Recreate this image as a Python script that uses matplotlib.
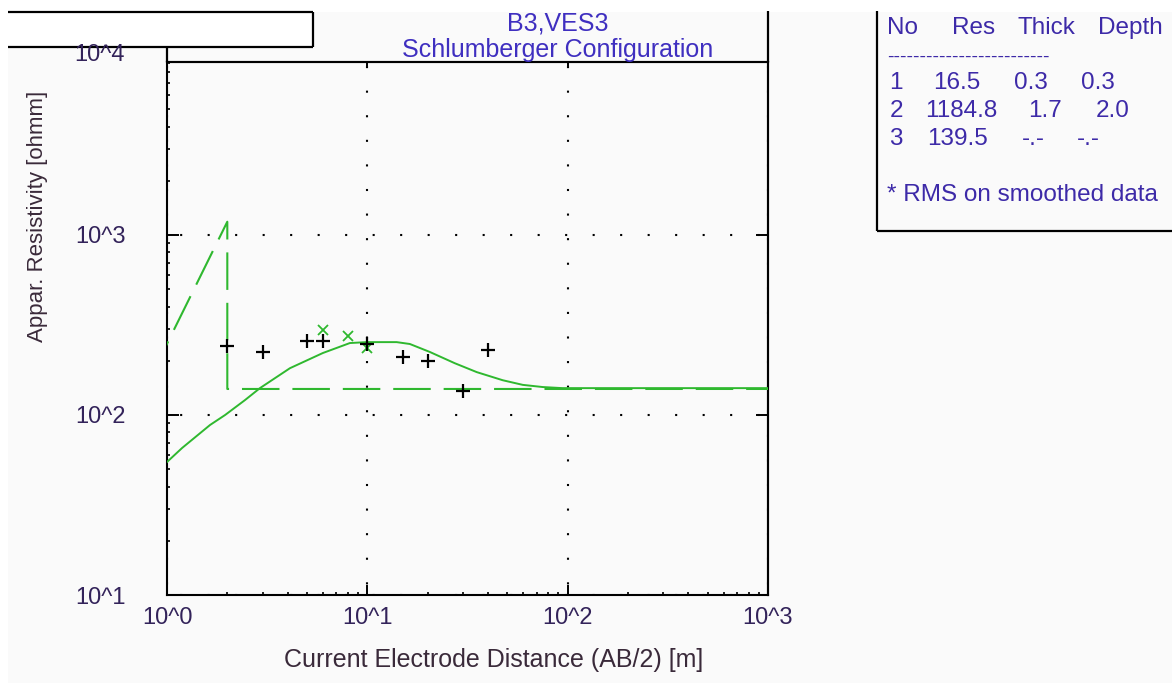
import matplotlib
matplotlib.use('Agg')
import matplotlib.pyplot as plt
from matplotlib.patches import Rectangle
from matplotlib.lines import Line2D
from matplotlib.ticker import LogLocator, NullFormatter, NullLocator, FixedLocator

plt.rcParams['font.family'] = ['Liberation Sans', 'DejaVu Sans']

# ---------------- data ----------------
# layered model (table)
layer_no = [1, 2, 3]
layer_res = [16.5, 1184.8, 139.5]
layer_thick = ['0.3', '1.7', '-.-']
layer_depth = ['0.3', '2.0', '-.-']
depth_vals = [0.3, 2.0]

# field measurements (+)
ab2_field = [2, 3, 5, 6, 10, 15, 20, 30, 40]
rho_field = [242, 224, 258, 258, 248, 210, 200, 136, 230]

# smoothed data (x)
ab2_smooth = [6, 8, 10]
rho_smooth = [297, 275, 235]

# calculated sounding curve
ab2_calc = [1.0, 1.19, 1.64, 1.95, 2.45, 2.91, 4.11, 6.0, 8.18, 9.94, 14.0,
            16.3, 20.5, 27.3, 35.2, 47.4, 59.7, 75.0, 94.4, 1000]
rho_calc = [54.8, 65.6, 88, 100, 121, 141, 182, 221, 251, 254, 254,
            248, 224, 194, 173, 156, 147, 143, 141, 141]

x_ticks = [1, 10, 100, 1000]
x_ticklabels = ['10^0', '10^1', '10^2', '10^3']
y_ticks = [10, 100, 1000]
y_ticklabels = ['10^1', '10^2', '10^3']

title_lines = ['B3,VES3', 'Schlumberger Configuration']
xlabel = 'Current Electrode Distance (AB/2) [m]'
ylabel = 'Appar. Resistivity [ohmm]'

# ---------------- figure ----------------
W, H = 1172, 691
fig = plt.figure(figsize=(W / 100, H / 100), dpi=100, facecolor='white')


def fx(px):
    return px / W


def fy(py):
    return 1 - py / H


GREEN = '#2fb82f'
TXT_T = '#3f2fc0'
TICK_C = '#33235a'
LAB_C = '#3a2a3a'

# background panel
fig.add_artist(Rectangle((fx(8), fy(683)), fx(1172) - fx(8), fy(12) - fy(683),
                         transform=fig.transFigure, facecolor='#fafafa',
                         edgecolor='none', zorder=-10))

ax = fig.add_axes([fx(167), fy(595), fx(768) - fx(167), fy(62) - fy(595)])
ax.set_facecolor('none')
ax.set_xscale('log')
ax.set_yscale('log')
ax.set_xlim(1, 1000)
ax.set_ylim(10, 10 ** 3.961)

for s in ax.spines.values():
    s.set_linewidth(1.5)
    s.set_color('black')

# dotted grid
ax.xaxis.grid(True, which='major', color='black', linewidth=1.5,
              linestyle=(6.7, (1, 10.8)))
ax.yaxis.grid(True, which='major', color='black', linewidth=1.5,
              linestyle=(6.9, (1, 12.2)))
ax.set_axisbelow(True)

# model curve (dashed)
model_x = [depth_vals[0], depth_vals[1], depth_vals[1], 1000]
model_y = [layer_res[0], layer_res[1], layer_res[2], layer_res[2]]
ax.plot(model_x, model_y, color=GREEN, linewidth=1.5,
        linestyle=(0, (18, 6.2)), zorder=3)

# calculated curve
ax.plot(ab2_calc, rho_calc, color=GREEN, linewidth=1.4, zorder=3)

# smoothed points
ax.plot(ab2_smooth, rho_smooth, linestyle='none', marker='x', markersize=7,
        markeredgewidth=1.3, color=GREEN, zorder=4)

# field points
ax.plot(ab2_field, rho_field, linestyle='none', marker='+', markersize=10.5,
        markeredgewidth=1.6, color='black', zorder=5)

# ticks
ax.set_xticks(x_ticks)
ax.set_xticklabels(x_ticklabels)
ax.set_yticks(y_ticks)
ax.set_yticklabels(y_ticklabels)
ax.xaxis.set_minor_locator(LogLocator(base=10, subs=range(2, 10), numticks=20))
ax.yaxis.set_minor_locator(LogLocator(base=10, subs=range(2, 10), numticks=20))
ax.xaxis.set_minor_formatter(NullFormatter())
ax.yaxis.set_minor_formatter(NullFormatter())
ax.tick_params(axis='x', which='major', direction='in', length=7.2, width=1.4,
               top=False, bottom=True, pad=9, labelsize=17, labelcolor=TICK_C)
ax.tick_params(axis='y', which='major', direction='in', length=8.6, width=1.4,
               left=True, right=False, pad=30, labelsize=17, labelcolor=TICK_C)
ax.tick_params(which='minor', direction='in', length=2.4, width=1.2,
               top=False, right=False)

sec_x = ax.secondary_xaxis('top')
sec_x.xaxis.set_major_locator(FixedLocator(x_ticks[1:3]))
sec_x.xaxis.set_major_formatter(NullFormatter())
sec_x.xaxis.set_minor_locator(NullLocator())
sec_x.xaxis.set_minor_formatter(NullFormatter())
sec_x.tick_params(which='major', direction='in', length=3, width=1.4,
                  labeltop=False)
sec_x.spines['top'].set_linewidth(1.5)

sec_y = ax.secondary_yaxis('right')
sec_y.yaxis.set_major_locator(FixedLocator(y_ticks[1:]))
sec_y.yaxis.set_major_formatter(NullFormatter())
sec_y.yaxis.set_minor_locator(NullLocator())
sec_y.yaxis.set_minor_formatter(NullFormatter())
sec_y.tick_params(which='major', direction='in', length=8.6, width=1.4,
                  labelright=False)
sec_y.spines['right'].set_linewidth(1.5)

# extra top label for 10^4
fig.text(fx(125), fy(55), '10^4', ha='right', va='center', fontsize=17,
         color=TICK_C)

# axis labels
fig.text(fx(494), fy(660), xlabel, ha='center', va='center', fontsize=18,
         color=LAB_C)
fig.text(fx(38), fy(216), ylabel, ha='center', va='center', fontsize=16,
         rotation=90, color=LAB_C)

# title
fig.text(fx(558), fy(23), title_lines[0], ha='center', va='center',
         fontsize=18, color=TXT_T)
fig.text(fx(558), fy(50), title_lines[1], ha='center', va='center',
         fontsize=18, color=TXT_T)

# spine extensions and white box
def fig_line(xs, ys, lw=1.6):
    fig.add_artist(Line2D([fx(v) for v in xs], [fy(v) for v in ys],
                          transform=fig.transFigure, color='black',
                          linewidth=lw, solid_capstyle='butt'))


fig_line([768, 768], [11, 62])
fig_line([167, 167], [48, 62])
fig.add_artist(Rectangle((fx(8), fy(47)), fx(313) - fx(8), fy(12) - fy(47),
                         transform=fig.transFigure, facecolor='white',
                         edgecolor='none', zorder=1))
fig_line([8, 313], [12, 12])
fig_line([313, 313], [12, 47])
fig_line([8, 313], [47, 47])

# table panel
fig_line([877, 877], [11, 231])
fig_line([877, 1172], [231, 231])

TAB_C = '#3d2aa8'
TS = 17.5
header = [('No', 887), ('Res', 952), ('Thick', 1018), ('Depth', 1098)]
for txt, x in header:
    fig.text(fx(x), fy(28), txt, ha='left', va='center', fontsize=TS, color=TAB_C)
fig.text(fx(887), fy(57), '-' * 25, ha='left', va='center', fontsize=TS * 0.8,
         color=TAB_C)

row_y = [83, 111, 139]
col_no_x = 903
for i in range(3):
    y = row_y[i]
    fig.text(fx(col_no_x), fy(y), str(layer_no[i]), ha='right', va='center',
             fontsize=TS, color=TAB_C)
    res_x = [980, 997, 988][i]
    fig.text(fx(res_x), fy(y), f'{layer_res[i]:.1f}', ha='right', va='center',
             fontsize=TS, color=TAB_C)
    th_x = [1048, 1062, 1045][i]
    fig.text(fx(th_x), fy(y), layer_thick[i], ha='right', va='center',
             fontsize=TS, color=TAB_C)
    de_x = [1115, 1130, 1100][i]
    fig.text(fx(de_x), fy(y), layer_depth[i], ha='right', va='center',
             fontsize=TS, color=TAB_C)

fig.text(fx(887), fy(195), '* RMS on smoothed data', ha='left', va='center',
         fontsize=TS, color=TAB_C)

fig.savefig('out.png', dpi=100, facecolor=fig.get_facecolor())
